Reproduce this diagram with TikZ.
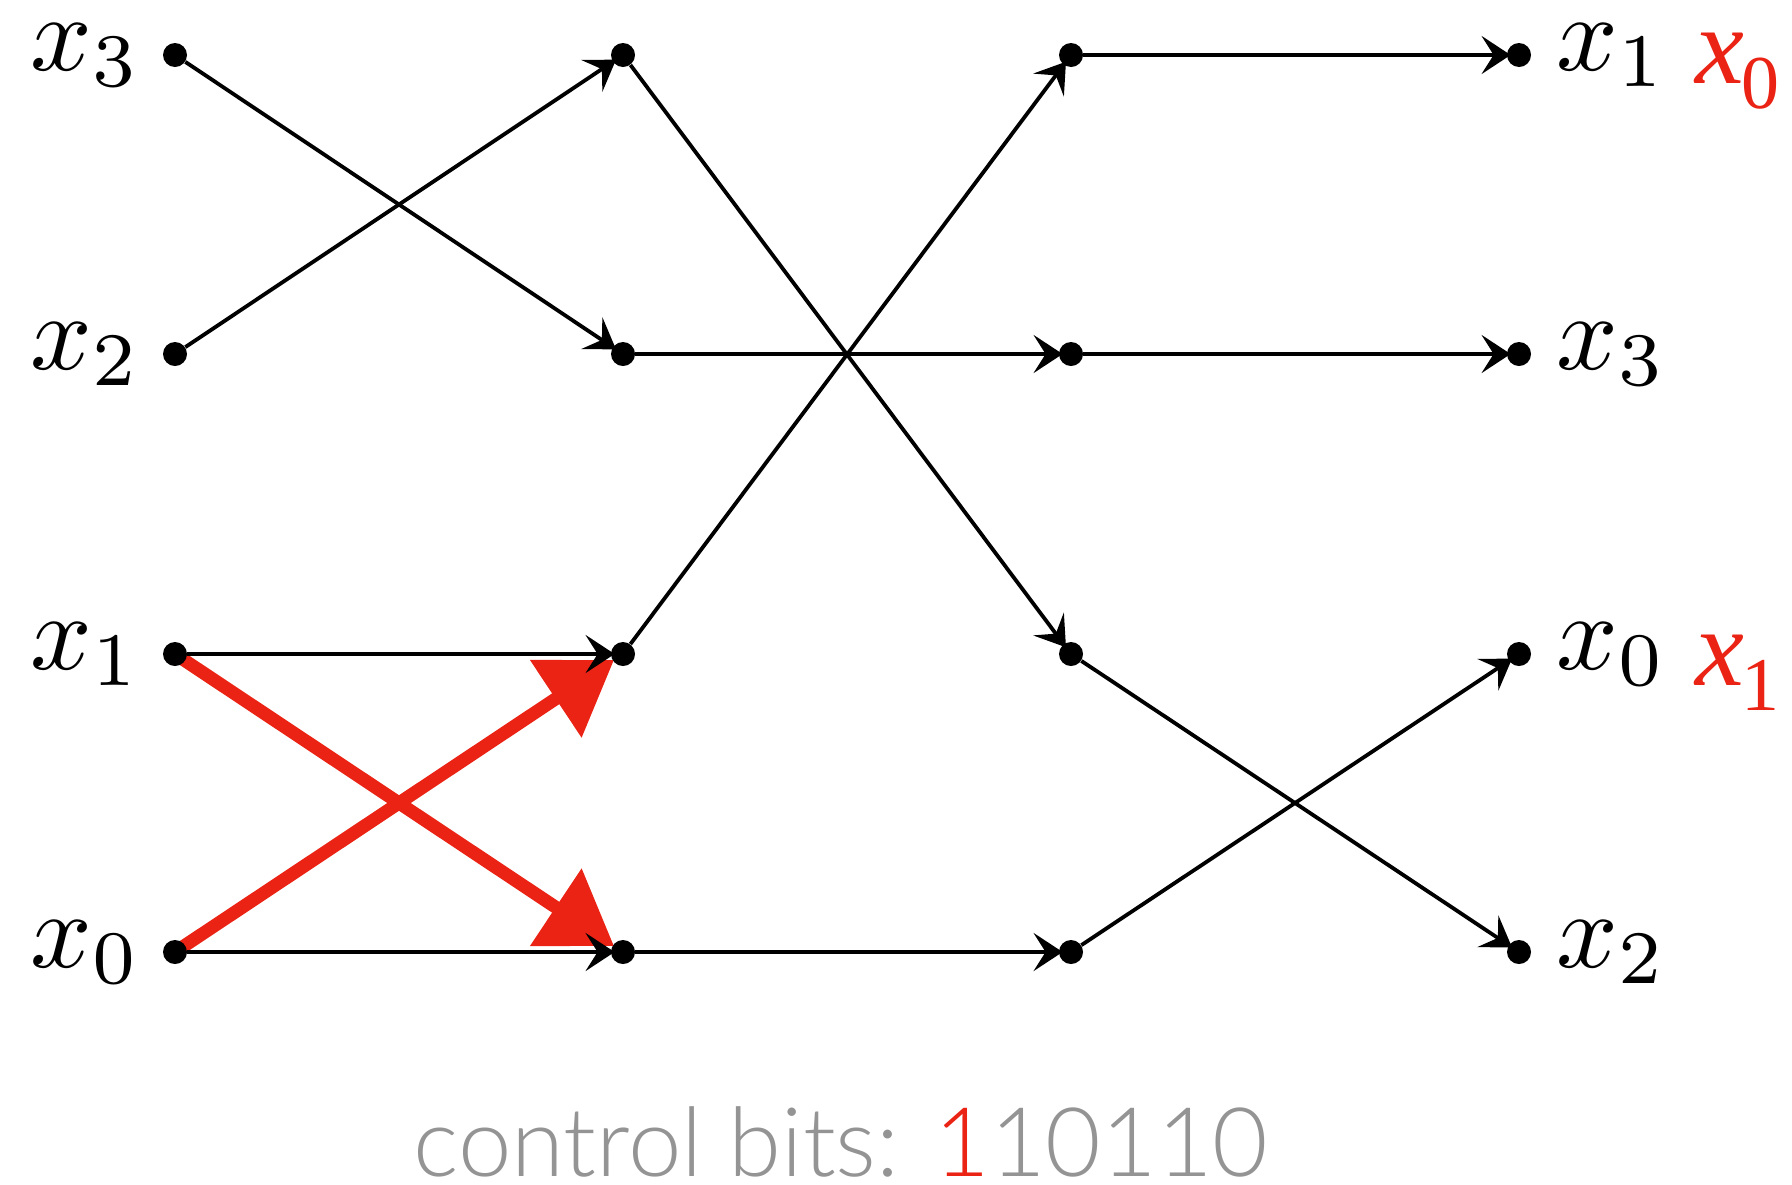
\RequirePackage{fix-cm}
\documentclass[tikz,border=0pt]{standalone}
\usepackage{fontspec}
\usepackage{graphicx}
\newfontfamily\bitsfont{Lato Light}
\newfontfamily\handfont{Liberation Serif}
\usetikzlibrary{arrows.meta}
\definecolor{markred}{RGB}{234,35,20}
\definecolor{bitgray}{RGB}{148,148,148}
% math labels set at 10pt and enlarged, keeping the 10pt stroke weight
\newcommand{\wirelab}[1]{\scalebox{5.4}{$x_{#1}$}}

\begin{document}
\begin{tikzpicture}[x=0.5pt,y=-0.5pt,
  dot/.style={circle, fill=black, inner sep=0pt, minimum size=12pt},
  wire/.style={line width=1.9pt, -{Stealth[length=14.5pt,width=19pt,inset=6pt]}, shorten >=-2pt},
  redwire/.style={draw=markred, line width=6.5pt, line cap=round, -{Triangle[length=35pt,width=45pt]}},
  lab/.style={inner sep=0pt, font=\fontsize{10}{12}\selectfont},
  redlab/.style={inner sep=0pt, anchor=base west, text=markred, font=\handfont\fontsize{55}{60}\selectfont},
]
\useasboundingbox (0,0) rectangle (1792,1184);

% switching stages: four columns of wires
\foreach \c/\x in {a/175,b/623,c/1071,d/1519}{
  \foreach \r/\y in {0/55,1/354,2/654,3/952}{
    \coordinate (\c\r p) at (\x,\y);
  }
}

% hand-marked swap of the lowest switch
\draw[redwire] (a2p) -- (614,946);
\draw[redwire] (a3p) -- (614,660);

% wire dots
\foreach \c in {a,b,c,d}{
  \foreach \r in {0,1,2,3}{
    \node[dot] (\c\r) at (\c\r p) {};
  }
}

% first stage
\draw[wire] (a0) -- (b1);
\draw[wire] (a1) -- (b0);
\draw[wire] (a2) -- (b2);
\draw[wire] (a3) -- (b3);
% second stage
\draw[wire] (b0) -- (c2);
\draw[wire] (b1) -- (c1);
\draw[wire] (b2) -- (c0);
\draw[wire] (b3) -- (c3);
% third stage
\draw[wire] (c0) -- (d0);
\draw[wire] (c1) -- (d1);
\draw[wire] (c2) -- (d3);
\draw[wire] (c3) -- (d2);

% inputs
\node[lab, anchor=east] (ia0) at ([xshift=-34*0.5pt]a0p) {\wirelab{3}};
\node[lab, anchor=east] (ia1) at ([xshift=-34*0.5pt]a1p) {\wirelab{2}};
\node[lab, anchor=east] (ia2) at ([xshift=-34*0.5pt]a2p) {\wirelab{1}};
\node[lab, anchor=east] (ia3) at ([xshift=-34*0.5pt]a3p) {\wirelab{0}};
% outputs
\node[lab, anchor=west] (od0) at ([xshift=37*0.5pt]d0p) {\wirelab{1}};
\node[lab, anchor=west] (od1) at ([xshift=37*0.5pt]d1p) {\wirelab{3}};
\node[lab, anchor=west] (od2) at ([xshift=37*0.5pt]d2p) {\wirelab{0}};
\node[lab, anchor=west] (od3) at ([xshift=37*0.5pt]d3p) {\wirelab{2}};

% outputs after the swap
\node[redlab] (r0) at (1695,83) {\textit{x}\kern-1.5pt\raisebox{-12.5pt}{\fontsize{38}{40}\selectfont 0}};
\node[redlab] (r2) at (1695,685) {\textit{x}\kern-1.5pt\raisebox{-12.5pt}{\fontsize{38}{40}\selectfont 1}};

% caption
\node[anchor=base, inner sep=0pt, text=bitgray, font=\bitsfont\fontsize{48}{52}\selectfont] (bits) at (841,1176)
  {control bits: \textcolor{markred}{1}10110};
\end{tikzpicture}
\end{document}
